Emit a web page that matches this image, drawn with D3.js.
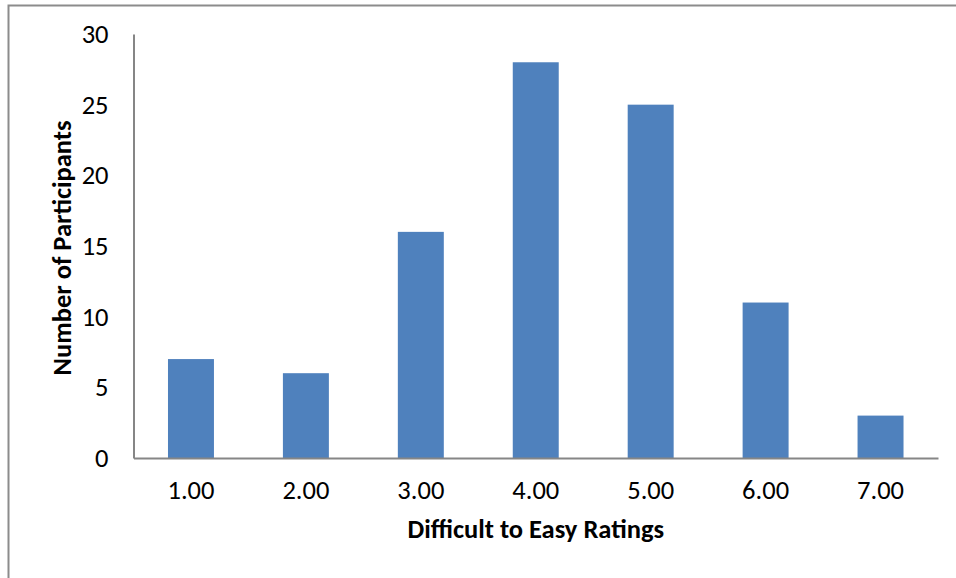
<!DOCTYPE html>
<html><head><meta charset="utf-8">
<script src="https://cdn.jsdelivr.net/npm/d3@7"></script>
<style>body{margin:0;background:#fff;} svg{display:block;}</style>
</head><body>
<script>
const categories = ["1.00","2.00","3.00","4.00","5.00","6.00","7.00"];
const values = [7, 6, 16, 28, 25, 11, 3];
const yTicks = [0, 5, 10, 15, 20, 25, 30];

const W = 956, H = 578;
const m = {left: 133.5, right: 938, top: 34, bottom: 458};
const font = "Carlito, Calibri, 'Open Sans', Lato, sans-serif";

const svg = d3.select("body").append("svg").attr("width", W).attr("height", H);

svg.append("rect").attr("x", 8.5).attr("y", 5.5).attr("width", W).attr("height", H)
  .attr("fill", "none").attr("stroke", "#8c8c8c").attr("stroke-width", 2);

const x = d3.scaleBand().domain(categories).range([m.left, m.right]).paddingInner(0.6).paddingOuter(0.3);
const y = d3.scaleLinear().domain([0, 30]).range([m.bottom, m.top]);

svg.selectAll("rect.bar").data(values).join("rect").attr("class", "bar")
  .attr("x", (d, i) => x(categories[i]))
  .attr("width", x.bandwidth())
  .attr("y", d => y(d))
  .attr("height", d => y(0) - y(d))
  .attr("fill", "#4f81bd");

const yAxis = svg.append("g").attr("transform", `translate(${m.left},0)`)
  .call(d3.axisLeft(y).tickValues(yTicks).tickSize(0).tickPadding(25));
yAxis.attr("font-size", null).attr("font-family", null);
yAxis.select(".domain").attr("stroke", "#868686").attr("stroke-width", 2);
yAxis.selectAll("text").style("font-family", font).style("font-size", "26.5px").attr("fill", "#000");

const xAxis = svg.append("g").attr("transform", `translate(0,${m.bottom})`)
  .call(d3.axisBottom(x).tickSize(0).tickPadding(22));
xAxis.attr("font-size", null).attr("font-family", null);
xAxis.select(".domain").attr("stroke", "#868686").attr("stroke-width", 2);
xAxis.selectAll("text").style("font-family", font).style("font-size", "26.5px").attr("fill", "#000");

svg.append("text").attr("x", (m.left + m.right) / 2).attr("y", 538)
  .attr("text-anchor", "middle").style("font-family", font).attr("font-weight", "bold")
  .style("font-size", "26.5px").text("Difficult to Easy Ratings");

svg.append("text").attr("transform", `translate(71,${(m.top + m.bottom) / 2 + 2}) rotate(-90)`)
  .attr("text-anchor", "middle").style("font-family", font).attr("font-weight", "bold")
  .style("font-size", "26.5px").text("Number of Participants");
</script>
</body></html>
